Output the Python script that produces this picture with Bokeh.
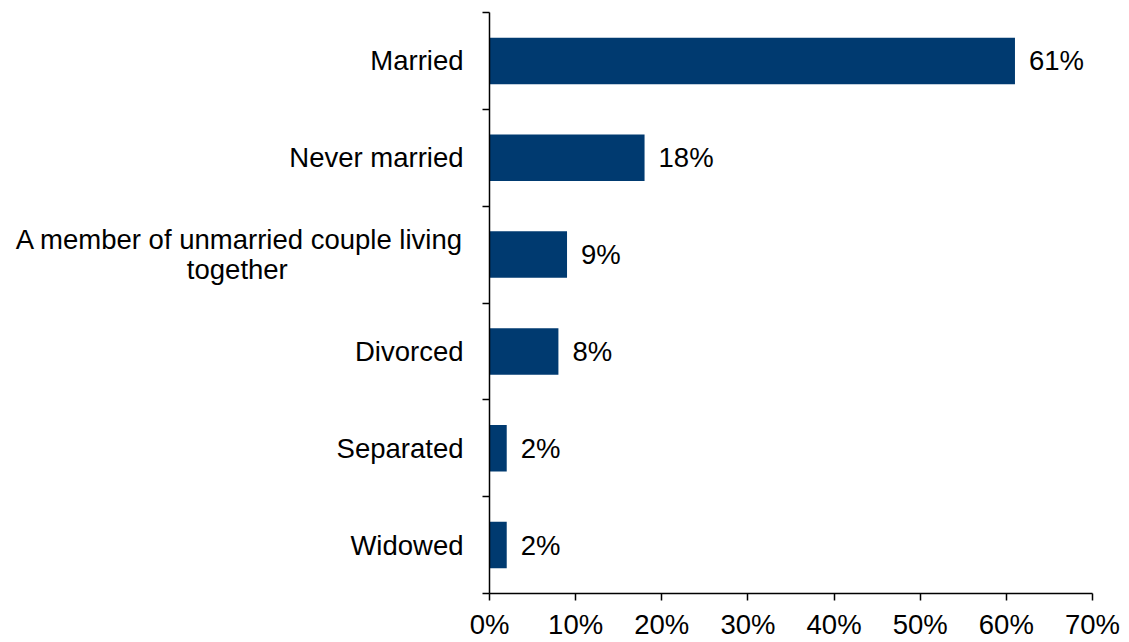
from bokeh.plotting import figure
from bokeh.models import (Range1d, LinearAxis, FixedTicker,
                          PrintfTickFormatter, ColumnDataSource, LabelSet)
from bokeh.core.properties import value
from bokeh.embed import file_html
from bokeh.resources import INLINE

NBSP = "\u00a0"
categories = ["Married", "Never married",
              "A member of unmarried couple living\ntogether" + NBSP * 23,
              "Divorced", "Separated", "Widowed"]
values = [61, 18, 9, 8, 2, 2]
value_labels = [f"{v}%" for v in values]
x_ticks = [0, 10, 20, 30, 40, 50, 60, 70]

FONT = "Liberation Sans"
FS = "27.5px"
BAR = "#003A70"

n = len(categories)
y_pos = [n - i - 0.5 for i in range(n)]  # category centres, first category on top

src = ColumnDataSource(dict(y=y_pos, val=values, lab=value_labels))

p = figure(width=1129, height=642, output_backend="svg", toolbar_location=None,
           y_range=Range1d(0, n), x_range=Range1d(0, x_ticks[-1]), y_axis_location=None,
           min_border_left=489, min_border_top=12, min_border_bottom=49, min_border_right=37)
p.outline_line_color = None
p.xgrid.grid_line_color = None
p.ygrid.grid_line_color = None
p.background_fill_color = "white"
p.border_fill_color = "white"

# boundary ticks axis (innermost), no labels
bounds = list(range(n + 1))
tick_axis = LinearAxis(ticker=FixedTicker(ticks=bounds),
                       major_label_overrides={b: "" for b in bounds},
                       major_label_standoff=0,
                       major_tick_out=7, major_tick_in=0,
                       major_tick_line_color="black", major_tick_line_width=1.5,
                       minor_tick_line_color=None,
                       axis_line_color="black", axis_line_width=1.5)
p.add_layout(tick_axis, "left")

cat_axis = LinearAxis(ticker=FixedTicker(ticks=y_pos),
                      major_label_overrides={y: c for y, c in zip(y_pos, categories)},
                      major_tick_line_color=None, minor_tick_line_color=None,
                      axis_line_color=None, major_label_standoff=13,
                      major_label_text_font=FONT, major_label_text_font_size=FS,
                      major_label_text_line_height=0.97,
                      major_label_text_color="black")
p.add_layout(cat_axis, "left")

xa = p.xaxis[0]
xa.ticker = FixedTicker(ticks=x_ticks)
xa.formatter = PrintfTickFormatter(format="%d%%")
xa.major_tick_out = 7
xa.major_tick_in = 0
xa.minor_tick_line_color = None
xa.axis_line_color = "black"
xa.axis_line_width = 1.5
xa.major_tick_line_color = "black"
xa.major_tick_line_width = 1.5
xa.major_label_text_font = FONT
xa.major_label_text_font_size = FS
xa.major_label_text_color = "black"
xa.major_label_standoff = 8

p.hbar(y="y", right="val", left=0, height=0.48, source=src,
       fill_color=BAR, line_color=None)

labels = LabelSet(x="val", y="y", text="lab", source=src, x_offset=14,
                  text_baseline="middle", text_align="left",
                  text_font=value(FONT), text_font_size=value(FS), text_color="black")
p.add_layout(labels)

open("out.html", "w").write(file_html(p, INLINE))
